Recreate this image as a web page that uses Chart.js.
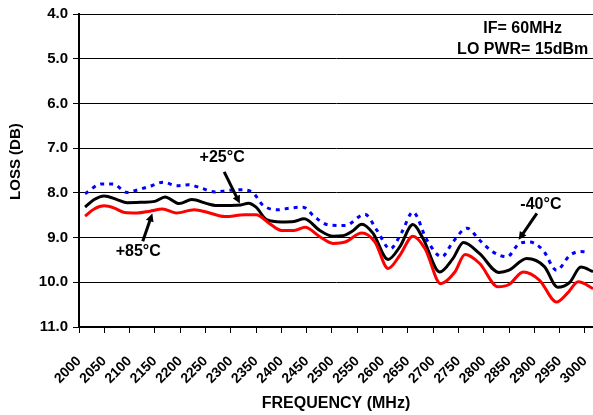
<!DOCTYPE html>
<html>
<head>
<meta charset="utf-8">
<script src="https://cdn.jsdelivr.net/npm/chart.js@4"></script>
<style>
html,body{margin:0;padding:0;background:#fff;}
#wrap{width:593px;height:415px;}
</style>
</head>
<body>
<div id="wrap"><canvas id="c" width="593" height="415"></canvas></div>
<script>
// ---- data ----
const freqTicks = [2000,2050,2100,2150,2200,2250,2300,2350,2400,2450,2500,2550,2600,2650,2700,2750,2800,2850,2900,2950,3000];
const lossTicks = [4,5,6,7,8,9,10,11];

const freq25 = [2012,2030,2050,2075,2095,2125,2150,2170,2198,2223,2253,2270,2300,2320,2335,2350,2371,2400,2425,2445,2476,2502,2521,2540,2559,2581,2611,2634,2660,2680,2713,2739,2760,2792,2830,2850,2885,2920,2946,2970,2992,3016];
const loss25 = [8.32,8.15,8.07,8.15,8.22,8.21,8.19,8.09,8.24,8.15,8.24,8.28,8.28,8.27,8.23,8.32,8.60,8.65,8.64,8.58,8.84,8.97,8.96,8.86,8.70,8.90,9.49,9.21,8.71,9.02,9.77,9.47,9.11,9.36,9.78,9.73,9.47,9.65,10.11,10.00,9.66,9.76];

const freq85 = [2012,2030,2050,2070,2090,2115,2140,2165,2192,2228,2255,2288,2328,2350,2377,2400,2425,2447,2476,2502,2526,2559,2585,2611,2634,2660,2684,2715,2743,2763,2792,2828,2850,2878,2910,2944,2965,2987,3016];
const loss85 = [8.52,8.36,8.29,8.34,8.44,8.45,8.41,8.36,8.45,8.38,8.44,8.53,8.49,8.49,8.69,8.84,8.84,8.77,8.98,9.13,9.10,8.90,9.10,9.69,9.40,8.97,9.25,10.03,9.77,9.38,9.58,10.10,10.05,9.77,9.95,10.44,10.25,9.99,10.14];

const freqM40 = [2012,2045,2067,2095,2117,2144,2166,2193,2217,2243,2269,2292,2318,2342,2364,2393,2417,2443,2466,2494,2526,2565,2589,2615,2638,2660,2688,2717,2739,2767,2792,2818,2846,2871,2891,2917,2944,2970,2992,3000];
const lossM40 = [8.02,7.80,7.80,7.99,7.93,7.84,7.76,7.84,7.82,7.90,7.98,7.95,7.93,7.98,8.28,8.38,8.34,8.32,8.54,8.72,8.73,8.48,8.84,9.25,8.88,8.43,9.06,9.43,9.10,8.79,9.06,9.32,9.43,9.13,9.10,9.28,9.73,9.40,9.31,9.32];

const seriesNames = ['+25°C','+85°C','-40°C'];
const noteLines = ['IF= 60MHz','LO PWR= 15dBm'];
const yTitle = 'LOSS (DB)';

// ---- annotations (positions in data units) ----
const labelNotes = [
  {text:'+25°C', x:2283, y:7.21, ax1:2287, ay1:7.53, ax2:2318, ay2:8.24},
  {text:'+85°C', x:2117, y:9.31, ax1:2126, ay1:9.08, ax2:2145, ay2:8.46},
  {text:'-40°C', x:2913, y:8.26, ax1:2905, ay1:8.46, ax2:2869, ay2:9.05}
];

const FONT = '"Liberation Sans", Arial, sans-serif';

function pts(xs, ys){ return xs.map((x,i)=>({x:x, y:ys[i]})); }

const notesPlugin = {
  id:'notes',
  afterDatasetsDraw(chart){
    const ctx = chart.ctx, xs = chart.scales.x, ys = chart.scales.y;
    ctx.save();
    ctx.fillStyle = '#000';
    ctx.strokeStyle = '#000';
    ctx.font = 'bold 16px ' + FONT;
    ctx.textAlign = 'center';
    ctx.textBaseline = 'middle';
    labelNotes.forEach(n=>{
      ctx.fillText(n.text, xs.getPixelForValue(n.x), ys.getPixelForValue(n.y));
      const x1 = xs.getPixelForValue(n.ax1), y1 = ys.getPixelForValue(n.ay1);
      const x2 = xs.getPixelForValue(n.ax2), y2 = ys.getPixelForValue(n.ay2);
      const ang = Math.atan2(y2-y1, x2-x1);
      const hl = 8;
      ctx.lineWidth = 3;
      ctx.beginPath();
      ctx.moveTo(x1,y1);
      ctx.lineTo(x2 - Math.cos(ang)*hl*0.8, y2 - Math.sin(ang)*hl*0.8);
      ctx.stroke();
      ctx.beginPath();
      ctx.moveTo(x2,y2);
      ctx.lineTo(x2 - hl*Math.cos(ang) + 4*Math.sin(ang), y2 - hl*Math.sin(ang) - 4*Math.cos(ang));
      ctx.lineTo(x2 - hl*Math.cos(ang) - 4*Math.sin(ang), y2 - hl*Math.sin(ang) + 4*Math.cos(ang));
      ctx.closePath();
      ctx.fill();
    });
    const cx = xs.getPixelForValue(2877);
    ctx.fillText(noteLines[0], cx, ys.getPixelForValue(4.32));
    ctx.fillText(noteLines[1], cx, ys.getPixelForValue(4.79));
    // y axis title
    ctx.save();
    ctx.font = 'bold 15px ' + FONT;
    ctx.translate(16, ys.getPixelForValue(7.3));
    ctx.rotate(-Math.PI/2);
    ctx.fillText(yTitle, 0, 0);
    ctx.restore();
    ctx.restore();
  }
};

new Chart(document.getElementById('c'), {
  type:'line',
  data:{
    datasets:[
      {label:seriesNames[2], data:pts(freqM40,lossM40), borderColor:'#0000ff', borderWidth:3, borderDash:[4,5], pointRadius:0, cubicInterpolationMode:'monotone', fill:false},
      {label:seriesNames[1], data:pts(freq85,loss85), borderColor:'#ff0000', borderWidth:3, pointRadius:0, cubicInterpolationMode:'monotone', fill:false},
      {label:seriesNames[0], data:pts(freq25,loss25), borderColor:'#000000', borderWidth:3, pointRadius:0, cubicInterpolationMode:'monotone', fill:false}
    ]
  },
  options:{
    responsive:false,
    animation:false,
    events:[],
    layout:{padding:{top:5,right:0,left:0,bottom:0}},
    plugins:{legend:{display:false}, tooltip:{enabled:false}},
    scales:{
      x:{
        type:'linear', min:2000, max:3016,
        afterBuildTicks(s){ s.ticks = freqTicks.map(v=>({value:v})); },
        afterFit(s){ s.height = 88; s.paddingLeft = 0; s.paddingRight = 0; },
        grid:{drawOnChartArea:false, drawTicks:true, tickLength:6, color:'#000', lineWidth:1},
        border:{display:true, color:'#000', width:2},
        ticks:{autoSkip:false, maxRotation:45, minRotation:45, color:'#000', font:{family:FONT, size:14, weight:'bold'}, padding:20, callback:v=>String(v)},
        title:{display:true, text:'FREQUENCY (MHz)', color:'#000', font:{family:FONT, size:16, weight:'bold'}, padding:{top:0,bottom:2}}
      },
      y:{
        type:'linear', min:4, max:11, reverse:true,
        afterBuildTicks(s){ s.ticks = lossTicks.map(v=>({value:v})); },
        afterFit(s){ s.width = 79; },
        grid:{drawOnChartArea:true, drawTicks:true, tickLength:6, color:'#000', lineWidth:1},
        border:{display:true, color:'#000', width:2},
        ticks:{color:'#000', font:{family:FONT, size:15, weight:'bold'}, padding:5, callback:v=>v.toFixed(1)},
        title:{display:false}
      }
    }
  },
  plugins:[notesPlugin]
});
</script>
</body>
</html>
